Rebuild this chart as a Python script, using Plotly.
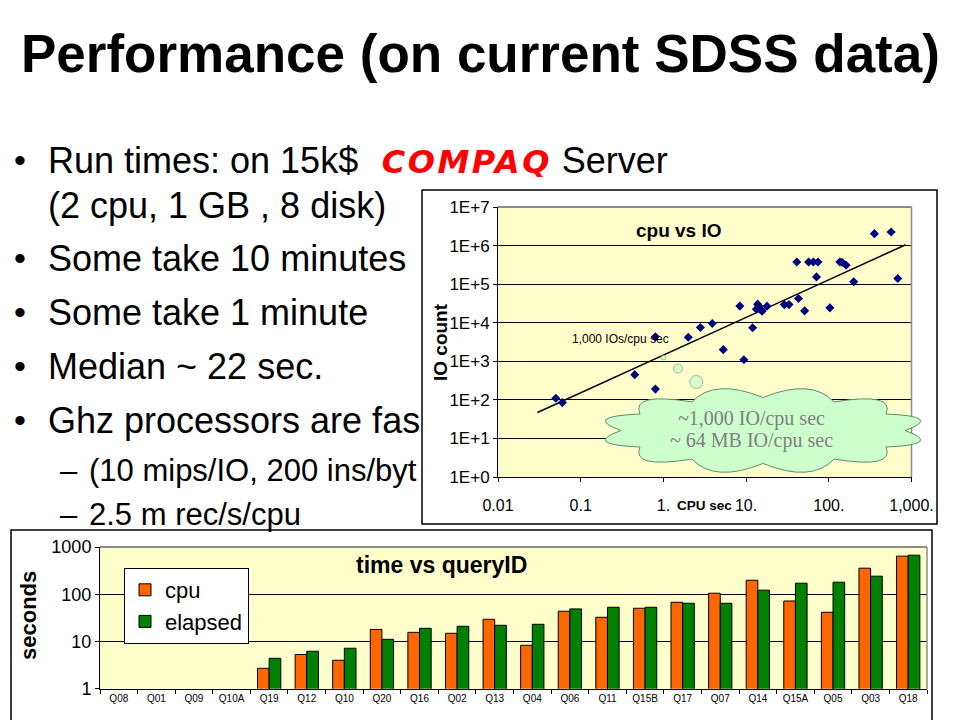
import numpy as np
import plotly.graph_objects as go

W, H = 960, 720


def px(x):
    return x / W


def py(y):
    return 1 - y / H


FONT = "Arial, Liberation Sans, sans-serif"

# ---------------- scatter data (cpu vs IO) ----------------
cpu_sec = [0.05, 0.06, 0.45, 0.8, 0.8, 2.0, 2.8, 3.9, 5.3, 8.4,
           9.4, 12, 13.3, 13.8, 14.2, 14.9, 15.6, 17.9, 29, 33,
           43, 41, 51, 57, 65, 74, 71, 103, 136, 145,
           162, 200, 356, 567, 683]
io_count = [110, 85, 450, 190, 4300, 4200, 7500, 9500, 2000, 27000,
            1100, 7400, 22400, 30300, 27000, 22400, 19900, 26900, 29500, 29500,
            42400, 376000, 20300, 376000, 376000, 376000, 154000, 24300, 376000, 368000,
            309000, 115000, 2040000, 2250000, 140000]
trend_cpu = [0.03, 850]
trend_io = [47, 1.05e6]
bubble_cpu = [1.0, 1.5, 2.5]
bubble_io = [1260, 650, 290]

x_ticks = [0.01, 0.1, 1, 10, 100, 1000]
x_ticktext = ["0.01", "0.1", "1.", "10.", "100.", "1,000."]
y_ticks = [1, 10, 100, 1e3, 1e4, 1e5, 1e6, 1e7]
y_ticktext = ["1E+0", "1E+1", "1E+2", "1E+3", "1E+4", "1E+5", "1E+6", "1E+7"]

# ---------------- bar data (time vs queryID) ----------------
queries = ["Q08", "Q01", "Q09", "Q10A", "Q19", "Q12", "Q10", "Q20", "Q16", "Q02", "Q13",
           "Q04", "Q06", "Q11", "Q15B", "Q17", "Q07", "Q14", "Q15A", "Q05", "Q03", "Q18"]
cpu_time = [None, None, None, None, 2.7, 5.3, 4.0, 18, 15.6, 14.9, 29.5,
            8.3, 43.6, 32.5, 50.5, 67.6, 105, 198, 72, 41.5, 356, 640]
elapsed_time = [None, None, None, None, 4.4, 6.2, 7.2, 11.1, 19, 21, 22,
                23.1, 48.9, 53, 53, 64.4, 64.4, 122, 171, 180, 241, 671]
sec_ticks = [1, 10, 100, 1000]
sec_ticktext = ["1", "10", "100", "1000"]

fig = go.Figure()

# scatter traces
fig.add_trace(go.Scatter(x=trend_cpu, y=trend_io, mode="lines",
                         line=dict(color="black", width=1.5),
                         xaxis="x", yaxis="y", showlegend=False, hoverinfo="skip"))
fig.add_trace(go.Scatter(x=cpu_sec, y=io_count, mode="markers",
                         marker=dict(symbol="diamond", size=7, color="#00007F"),
                         xaxis="x", yaxis="y", showlegend=False))
fig.add_trace(go.Scatter(x=bubble_cpu, y=bubble_io, mode="markers",
                         marker=dict(symbol="circle", size=[5, 9, 13], color="#CCFFCC",
                                     line=dict(color="#7A9A88", width=1)),
                         xaxis="x", yaxis="y", showlegend=False, hoverinfo="skip"))

# bar traces
fig.add_trace(go.Bar(x=queries, y=cpu_time, name="cpu", xaxis="x2", yaxis="y2",
                     marker=dict(color="#FF6600", line=dict(color="black", width=1)),
                     legendgroup="cpu"))
fig.add_trace(go.Bar(x=queries, y=elapsed_time, name="elapsed", xaxis="x2", yaxis="y2",
                     marker=dict(color="#008000", line=dict(color="black", width=1)),
                     legendgroup="elapsed"))

# scatter plot area
sx0, sx1, sy0, sy1 = 498, 911.5, 207, 477
# bar plot area
bx0, bx1, by0, by1 = 100, 927, 547, 688.7

fig.update_layout(
    template="none",
    width=W, height=H,
    margin=dict(l=0, r=0, t=0, b=0, autoexpand=False),
    paper_bgcolor="white",
    plot_bgcolor="#FFFFCC",
    barmode="group", bargap=0.38, bargroupgap=0,
    font=dict(family=FONT, color="black"),
    xaxis=dict(type="log", range=[-2, 3], domain=[px(sx0), px(sx1)], anchor="y",
               tickvals=x_ticks, ticktext=x_ticktext, ticks="outside", ticklen=4,
               tickcolor="black", showline=True, linecolor="black", linewidth=1,
               showgrid=False, zeroline=False, tickfont=dict(size=16),
               ticklabelstandoff=10, automargin=False),
    yaxis=dict(type="log", range=[0, 7], domain=[py(sy1), py(sy0)], anchor="x",
               tickvals=y_ticks, ticktext=y_ticktext, ticks="outside", ticklen=4,
               tickcolor="black", showline=True, linecolor="black", linewidth=1,
               showgrid=True, gridcolor="black", gridwidth=1, zeroline=False,
               tickfont=dict(size=17), automargin=False),
    xaxis2=dict(type="category", domain=[px(bx0), px(bx1)], anchor="y2",
                ticks="outside", tickson="boundaries", ticklen=4, tickcolor="black",
                showline=True, linecolor="black", linewidth=1, showgrid=False,
                tickfont=dict(size=10), automargin=False),
    yaxis2=dict(type="log", range=[0, 3], domain=[py(by1), py(by0)], anchor="x2",
                tickvals=sec_ticks, ticktext=sec_ticktext, ticks="outside", ticklen=4,
                tickcolor="black", showline=True, linecolor="black", linewidth=1,
                showgrid=True, gridcolor="black", gridwidth=1, zeroline=False,
                tickfont=dict(size=18), automargin=False),
    legend=dict(x=px(124), y=py(568), xanchor="left", yanchor="top",
                bgcolor="white", bordercolor="black", borderwidth=1,
                font=dict(size=22), tracegroupgap=0),
    showlegend=True,
)

shapes = []
# outer chart boxes
shapes.append(dict(type="rect", xref="paper", yref="paper", x0=px(422), x1=px(937),
                   y0=py(524), y1=py(190), line=dict(color="black", width=1.5),
                   fillcolor="rgba(0,0,0,0)", layer="below"))
shapes.append(dict(type="rect", xref="paper", yref="paper", x0=px(11), x1=px(932),
                   y0=py(730), y1=py(530), line=dict(color="black", width=1.5),
                   fillcolor="rgba(0,0,0,0)", layer="below"))
# grey top/right plot borders
for (a0, a1, b0, b1) in [(sx0, sx1, sy0, sy1), (bx0, bx1, by0, by1)]:
    shapes.append(dict(type="line", xref="paper", yref="paper", x0=px(a0), x1=px(a1),
                       y0=py(b0), y1=py(b0), line=dict(color="#8C8C8C", width=2)))
    shapes.append(dict(type="line", xref="paper", yref="paper", x0=px(a1), x1=px(a1),
                       y0=py(b0), y1=py(b1), line=dict(color="#8C8C8C", width=1.5)))

# cloud callout
cx, cy, rx, ry = 763, 430.5, 142, 33
n = 12
ang = np.linspace(0, 2 * np.pi, n + 1)
pts = [(cx + rx * np.cos(a), cy + ry * np.sin(a)) for a in ang]
path = f"M {px(pts[0][0]):.5f},{py(pts[0][1]):.5f}"
for i in range(n):
    am = (ang[i] + ang[i + 1]) / 2
    k = 1.32
    qx, qy = cx + rx * k * np.cos(am), cy + ry * k * 1.25 * np.sin(am)
    x1, y1 = pts[i + 1]
    path += f" Q {px(qx):.5f},{py(qy):.5f} {px(x1):.5f},{py(y1):.5f}"
path += " Z"
shapes.append(dict(type="path", xref="paper", yref="paper", path=path,
                   fillcolor="#CCFFCC", line=dict(color="#5E8A72", width=1), layer="above"))
fig.update_layout(shapes=shapes)

ann = []


def add_text(text, x, y, size, xanchor="left", bold=False, color="black", family=FONT,
             angle=0, yanchor="middle"):
    if bold:
        text = f"<b>{text}</b>"
    ann.append(dict(text=text, x=px(x), y=py(y), xref="paper", yref="paper",
                    xanchor=xanchor, yanchor=yanchor, showarrow=False, textangle=angle,
                    font=dict(size=size, color=color, family=family)))


# slide title
add_text("Performance (on current SDSS data)", 480, 54, 53, xanchor="center", bold=True)

# bullets
MAIN = 36
SUB = 31
bullet_y = [160, 258, 312, 366, 420]
for yy in bullet_y:
    add_text("•", 12, yy, 34)
add_text("Run times: on 15k$ <span style='color:#FF0000;font-family:DejaVu Sans;"
         "font-weight:bold;font-style:italic;font-size:32px;letter-spacing:2.5px'>&nbsp;COMPAQ</span> Server",
         46, 160, MAIN)
add_text("(2 cpu, 1 GB , 8 disk)", 46, 205, MAIN)
add_text("Some take 10 minutes", 46, 258, MAIN)
add_text("Some take 1 minute", 46, 312, MAIN)
add_text("Median ~ 22 sec.", 46, 366, MAIN)
add_text("Ghz processors are fas", 46, 420, MAIN)
add_text("–", 58, 470, SUB)
add_text("(10 mips/IO, 200 ins/byt", 87, 470, SUB)
add_text("–", 58, 514, SUB)
add_text("2.5 m rec/s/cpu", 87, 514, SUB)

# scatter chart texts
add_text("cpu vs IO", 679, 231, 19, xanchor="center", bold=True)
add_text("IO count", 440, 342, 19, xanchor="center", bold=True, angle=-90)
add_text("CPU sec", 704, 506, 13.5, xanchor="center", bold=True)
add_text("1,000 IOs/cpu sec", 620, 339, 12, xanchor="center")
add_text("~1,000 IO/cpu sec", 751, 418, 20, xanchor="center", color="#808080",
         family="Liberation Serif, Times New Roman, serif")
add_text("~ 64 MB IO/cpu sec", 751, 440, 20, xanchor="center", color="#808080",
         family="Liberation Serif, Times New Roman, serif")

# bar chart texts
add_text("time vs queryID", 441, 565, 23, xanchor="center", bold=True)
add_text("seconds", 28, 616, 22, xanchor="center", bold=True, angle=-90)

fig.update_layout(annotations=ann)

fig.write_html("out.html", config={"displayModeBar": False},
               post_script="document.body.style.margin='0px';document.body.style.padding='0px';")
